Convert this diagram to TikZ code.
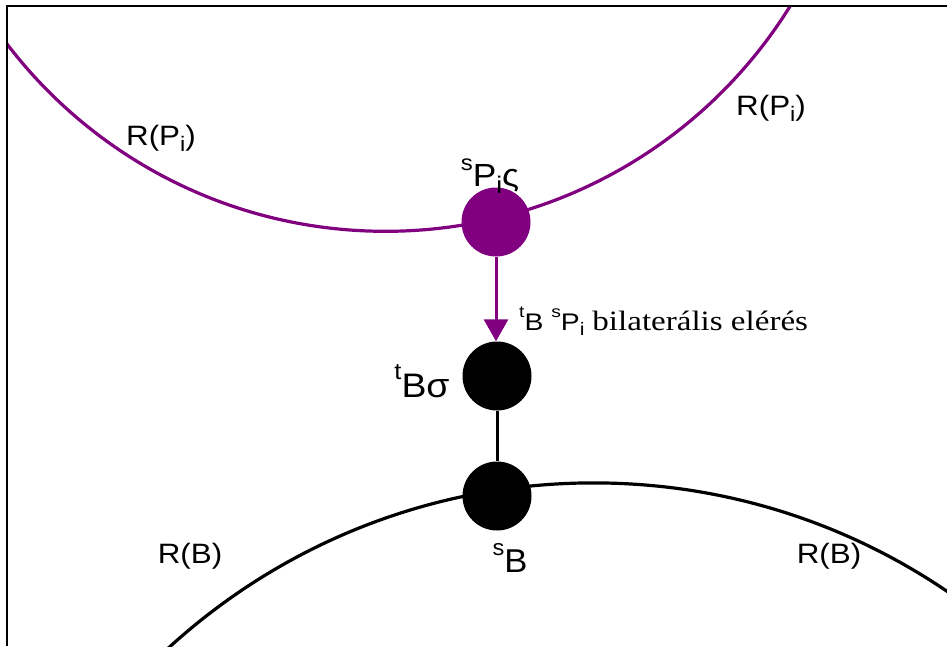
\documentclass[tikz,border=0pt]{standalone}
\usepackage{fontspec}
\setmainfont{Liberation Sans}
\newfontfamily\timesfont{Liberation Serif}
\usetikzlibrary{arrows.meta}
\definecolor{pp}{RGB}{128,0,128}
\newcommand{\mysub}[1]{\raisebox{-0.22em}{\scalebox{0.75}{#1}}}
\newcommand{\mysup}[1]{\raisebox{0.52em}{\scalebox{0.68}{#1}}}
\begin{document}
\begin{tikzpicture}[x=1pt,y=-1pt,
  dot/.style={circle,inner sep=0pt,minimum size=69pt},
  lbl/.style={inner sep=0pt,xscale=1.12,font=\fontsize{28}{32}\selectfont},
  arcline/.style={line width=3.2pt}]
\useasboundingbox (0,0) rectangle (947,646);
\fill[white] (0,0) rectangle (947,646);
\begin{scope}
  \clip (7,6) rectangle (947,646);
  \draw[arcline,pp] (385.5,-244.7) circle[radius=476];
  \draw[arcline,black] (593.6,1112.9) circle[radius=630];
\end{scope}
\draw[line width=2pt] (7,646) -- (7,6) -- (947,6);
\node[dot,fill=pp] (P) at (496,222) {};
\node[dot,fill=black] (tB) at (497,376) {};
\node[dot,fill=black] (sB) at (497,496) {};
\draw[pp,line width=3pt,-{Triangle[width=24pt,length=22pt]}] (P.south) -- (P.south |- tB.north);
\draw[line width=3pt] (tB) -- (sB);
\node[lbl] (l1) at (161,138) {R(P\mysub{i})};
\node[lbl] (l2) at (771,108) {R(P\mysub{i})};
\node[lbl] (l3) at (190,556) {R(B)};
\node[lbl] (l4) at (829,556) {R(B)};
\node[inner sep=0pt,xscale=1.1,font=\fontsize{32}{36}\selectfont] (sp) at (490,176) {\mysup{s}P\mysub{i}ς};
\node[inner sep=0pt,xscale=1.1,font=\fontsize{34}{38}\selectfont] (tb) at (422,381) {\mysup{t}Bσ};
\node[inner sep=0pt,xscale=1.05,font=\fontsize{33}{36}\selectfont] (sb) at (510,558) {\mysup{s}B};
\node[inner sep=0pt,anchor=base west,xscale=1.18,font=\fontsize{24}{28}\selectfont] (bl) at (519,330) {\mysup{t}B \mysup{s}P\mysub{i} {\timesfont\fontsize{28}{32}\selectfont bilaterális elérés}};
\end{tikzpicture}
\end{document}
